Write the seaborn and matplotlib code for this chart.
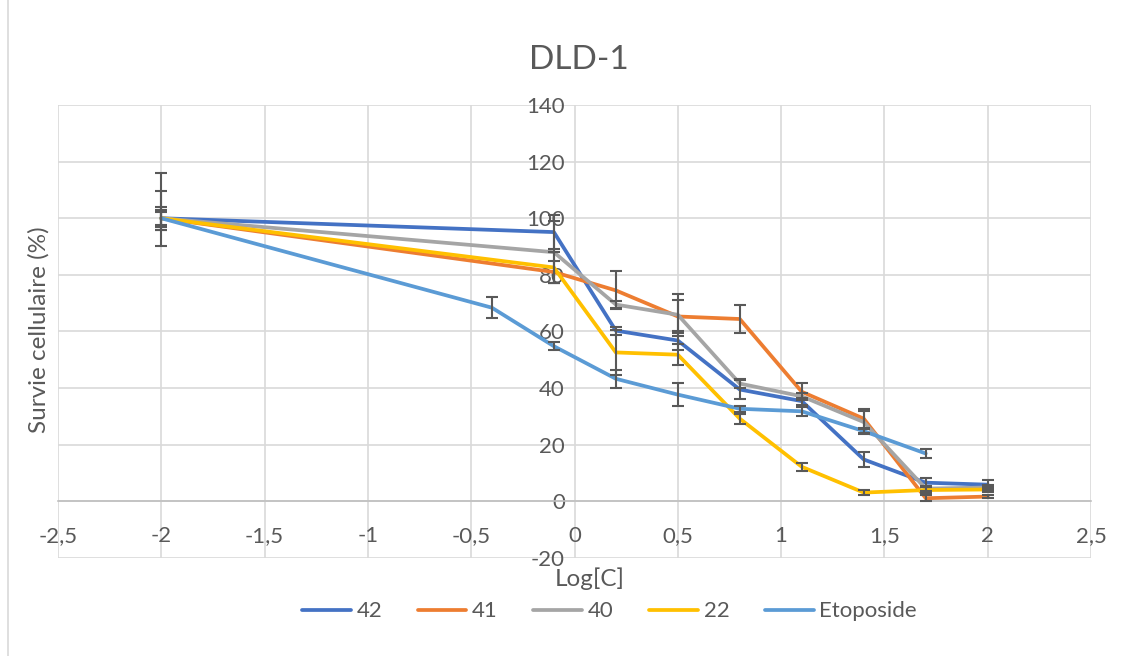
import numpy as np
import pandas as pd
import seaborn as sns
import matplotlib.pyplot as plt
from matplotlib.patches import Rectangle
from matplotlib.ticker import FuncFormatter, MultipleLocator

# log concentrations
logc = [-2, -0.1, 0.2, 0.5, 0.8, 1.1, 1.4, 1.7, 2.0]
logc_eto = [-2, -0.4, -0.1, 0.2, 0.5, 0.8, 1.1, 1.4, 1.7]

# survival (%)
surv_42 = [100, 95.1, 60.3, 56.8, 39.5, 35.4, 14.8, 6.6, 5.9]
surv_41 = [100, 81.0, 74.5, 65.3, 64.4, 38.7, 29.2, 1.1, 1.7]
surv_40 = [100, 88.0, 69.5, 65.9, 41.6, 37.1, 28.0, 4.5, 4.9]
surv_22 = [100, 82.6, 52.6, 51.8, 29.2, 12.2, 3.1, 4.0, 4.2]
surv_eto = [100, 68.4, 54.8, 43.3, 37.7, 32.7, 31.8, 24.8, 16.9]

# error bars (%), lower / upper
err_42_lo = [4.1, 6.0, 1.4, 3.3, 3.5, 1.2, 2.8, 1.7, 1.5]
err_42_hi = [16.0, 6.0, 1.4, 3.3, 3.5, 1.2, 2.8, 1.7, 1.5]
err_41 = [4.0, 3.9, 6.7, 5.7, 4.9, 3.0, 3.5, 1.0, 0.5]
err_40 = [9.7, 11.0, 1.3, 7.4, 1.5, 1.0, 3.8, 1.0, 0.8]
err_22 = [3.0, 5.6, 8.0, 3.8, 1.8, 1.3, 0.9, 1.0, 0.8]
err_eto = [2.3, 3.8, 1.5, 3.2, 4.0, 1.0, 1.7, 1.0, 1.6]

series = ["42", "41", "40", "22", "Etoposide"]
colors = ["#4472C4", "#ED7D31", "#A5A5A5", "#FFC000", "#5B9BD5"]

xs = [logc, logc, logc, logc, logc_eto]
ys = [surv_42, surv_41, surv_40, surv_22, surv_eto]
lows = [err_42_lo, err_41, err_40, err_22, err_eto]
highs = [err_42_hi, err_41, err_40, err_22, err_eto]

df = pd.concat([pd.DataFrame({"Log[C]": x, "Survie": y, "lo": l, "hi": h, "Composé": s})
                for x, y, l, h, s in zip(xs, ys, lows, highs, series)], ignore_index=True)

sns.set_theme(style="white")
plt.rcParams['font.family'] = ['Lato', 'DejaVu Sans']
txt = "#595959"

fig = plt.figure(figsize=(11.39, 6.56), dpi=100)
fig.patches.append(Rectangle((0.007, -0.01), 1.0, 1.02, transform=fig.transFigure,
                             fill=False, edgecolor="#D9D9D9", linewidth=1.2))
ax = fig.add_axes([0.0509, 0.1494, 0.9070, 0.6906])

sns.lineplot(data=df, x="Log[C]", y="Survie", hue="Composé", hue_order=series,
             palette=colors, linewidth=2.7, sort=False, ax=ax, legend=True, zorder=3)

for s in series:
    d = df[df["Composé"] == s]
    ax.errorbar(d["Log[C]"], d["Survie"], yerr=[d["lo"], d["hi"]], fmt="none",
                ecolor="#595959", elinewidth=1.5, capsize=4.5, capthick=1.5, zorder=4)

ax.set_xlim(-2.5, 2.5)
ax.set_ylim(-20, 140)
ax.xaxis.set_major_locator(MultipleLocator(0.5))
ax.yaxis.set_major_locator(MultipleLocator(20))
comma = FuncFormatter(lambda v, p: ("%g" % v).replace(".", ","))
ax.xaxis.set_major_formatter(comma)
ax.yaxis.set_major_formatter(comma)

ax.grid(True, color="#D9D9D9", linewidth=1.2)
ax.set_axisbelow(True)
for side in ["top", "right"]:
    ax.spines[side].set_visible(False)
ax.spines["left"].set_position(("data", 0))
ax.spines["left"].set_visible(False)
ax.spines["bottom"].set_position(("data", 0))
ax.spines["bottom"].set_color("#BFBFBF")
ax.spines["bottom"].set_linewidth(1.2)
ax.tick_params(axis="both", length=0, labelsize=16, labelcolor=txt)
ax.tick_params(axis="x", pad=18)
ax.tick_params(axis="y", pad=7)

ax.set_xlabel("")
ax.set_ylabel("")
fig.text(0.518, 0.118, "Log[C]", ha="center", va="center", fontsize=17.5, color=txt)
fig.text(0.034, 0.497, "Survie cellulaire (%)", rotation=90, ha="center", va="center",
         fontsize=17.5, color=txt)
fig.text(0.508, 0.909, "DLD-1", ha="center", va="center", fontsize=24, color=txt)

handles, labels = ax.get_legend_handles_labels()
ax.legend(handles, labels, loc="center", bbox_to_anchor=(0.535, 0.068),
          bbox_transform=fig.transFigure, ncol=5, frameon=False, fontsize=16,
          handlelength=2.2, handletextpad=0.25, columnspacing=1.6, labelcolor=txt)

fig.savefig("out.png", dpi=100)
